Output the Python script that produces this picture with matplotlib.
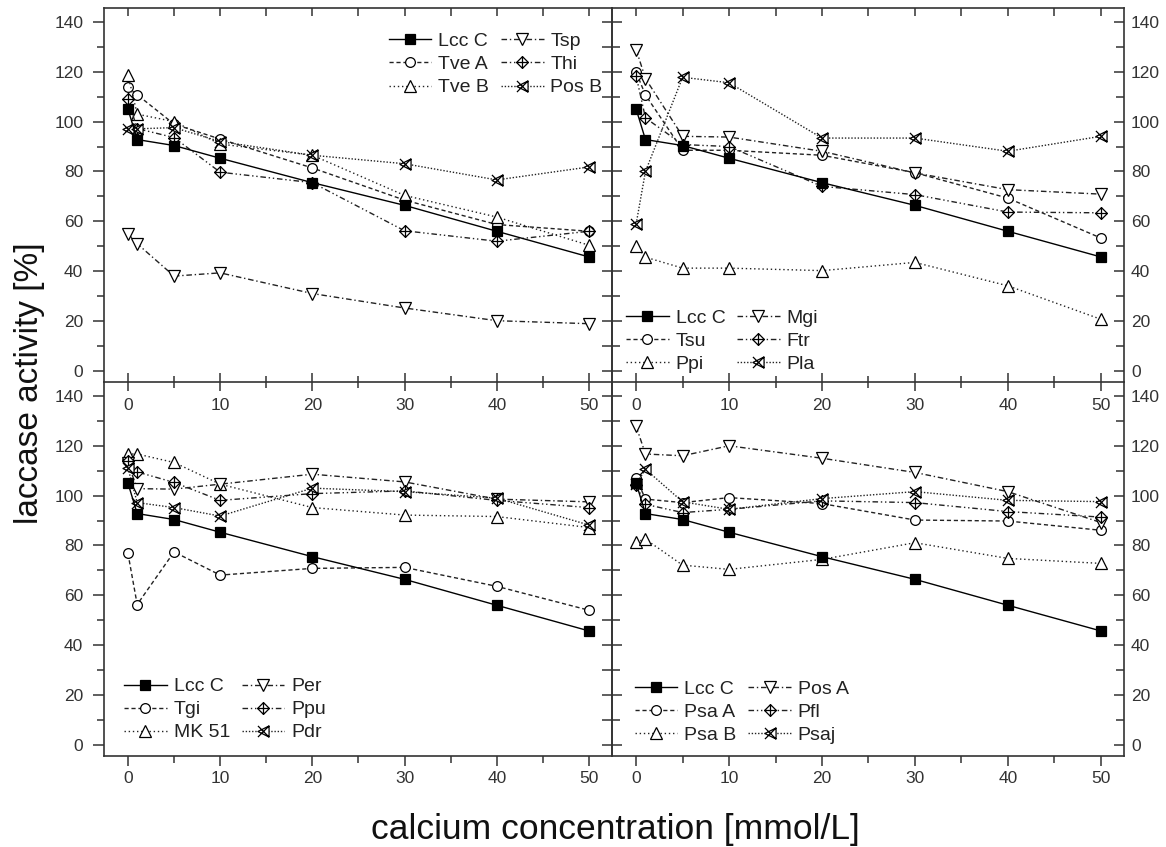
import matplotlib
matplotlib.use("Agg")
import matplotlib.pyplot as plt
from matplotlib.path import Path

plt.rcParams['font.family'] = ['Liberation Sans', 'DejaVu Sans']

# ---------------- data ----------------
conc = [0, 1, 5, 10, 20, 30, 40, 50]
lcc_c = [105, 92.8, 90.4, 85.3, 75.5, 66.4, 56, 45.7]

# panel top-left
tve_a = [114, 110.8, 99, 93, 81.4, 68.5, 58.7, 56]
tve_b = [118.8, 103, 100, 91, 86.5, 70.4, 61.7, 50.4]
tsp = [55, 51, 38, 39.3, 31, 25.2, 20.1, 18.9]
thi = [108.9, 97.2, 93.6, 79.7, 75.5, 56.2, 52, 56]
pos_b = [97.1, 97.1, 97.6, 92, 86.5, 83.1, 76.6, 81.8]

# panel top-right
tsu = [119.8, 110.7, 88.5, 88.5, 86.5, 79.5, 69.3, 53.3]
ppi = [50.2, 45.6, 41.2, 41.2, 40.2, 43.5, 34.1, 20.7]
mgi = [128.9, 117.3, 94.1, 93.8, 88.1, 79.4, 72.7, 70.9]
ftr = [118.3, 101.5, 90.8, 90, 74, 70.7, 63.7, 63.4]
pla = [59, 80, 117.8, 115.6, 93.4, 93.4, 88.1, 94.1]

# panel bottom-left
tgi = [76.8, 56.3, 77.4, 68.1, 70.8, 71.2, 63.6, 54]
mk51 = [116.7, 116.7, 113.3, 104.6, 95.2, 92.2, 91.6, 87.2]
per = [113, 102.8, 102.6, 104.6, 108.6, 105.5, 98.6, 97.5]
ppu = [114, 109.5, 105.3, 98.1, 100.8, 101.9, 98.1, 95.2]
pdr = [111, 97.2, 95.2, 91.8, 103, 101.6, 99, 88.2]

# panel bottom-right
pos_a = [127.8, 116.7, 116, 120, 115, 109.3, 101.6, 89.2]
psa_a = [107, 98.6, 97.2, 99.2, 96.8, 90.2, 89.8, 86.1]
psa_b = [81.5, 82.5, 72.1, 70.4, 74.4, 81.1, 74.8, 72.8]
pfl = [104.3, 96.5, 93.2, 94.5, 97.9, 97.2, 93.6, 91.4]
psaj = [104.6, 110.6, 97.5, 94.5, 98.8, 101.6, 98.1, 97.6]

panels = [
    (["Lcc C", "Tve A", "Tve B", "Tsp", "Thi", "Pos B"],
     [lcc_c, tve_a, tve_b, tsp, thi, pos_b]),
    (["Lcc C", "Tsu", "Ppi", "Mgi", "Ftr", "Pla"],
     [lcc_c, tsu, ppi, mgi, ftr, pla]),
    (["Lcc C", "Tgi", "MK 51", "Per", "Ppu", "Pdr"],
     [lcc_c, tgi, mk51, per, ppu, pdr]),
    (["Lcc C", "Psa A", "Psa B", "Pos A", "Pfl", "Psaj"],
     [lcc_c, psa_a, psa_b, pos_a, pfl, psaj]),
]

# ---------------- styles ----------------
M, L, C = Path.MOVETO, Path.LINETO, Path.CLOSEPOLY
diamond_plus = Path(
    [(0, 1), (1, 0), (0, -1), (-1, 0), (0, 1), (0, 1), (0, -1), (-1, 0), (1, 0)],
    [M, L, L, L, C, M, L, M, L])
tri_x = Path(
    [(-1, 0), (1, 1), (1, -1), (-1, 0), (-1, 1), (1, -1), (-1, -1), (1, 1)],
    [M, L, L, C, M, L, M, L])

markers = ['s', 'o', '^', 'v', diamond_plus, tri_x]
msizes = [6.5, 7, 8.5, 8.5, 8.5, 8]
styles = ['-', (0, (3, 2)), (0, (1, 2)), (0, (4, 2, 1, 2)),
          (0, (4, 2, 1, 2, 1, 2)), (0, (1, 1.3))]
faces = ['black', 'white', 'white', 'white', 'white', 'white']

fig = plt.figure(figsize=(11.66, 8.47), dpi=100)
W, H = 1166, 847
xl, xm, xr = 104 / W, 612 / W, 1124 / W
yt, ym, yb = 1 - 8 / H, 1 - 382 / H, 1 - 756 / H

rects = [
    [xl, ym, xm - xl, yt - ym],
    [xm, ym, xr - xm, yt - ym],
    [xl, yb, xm - xl, ym - yb],
    [xm, yb, xr - xm, ym - yb],
]

spine_col = '#333333'
tick_col = '#333333'
legend_pos = [
    ('upper left', (0.545, 0.955)),
    ('lower left', (0.012, 0.004)),
    ('lower left', (0.024, 0.018)),
    ('lower left', (0.029, 0.012)),
]

for i, (rect, (names, series)) in enumerate(zip(rects, panels)):
    ax = fig.add_axes(rect)
    ax.patch.set_visible(False)
    for j, (nm, ys) in enumerate(zip(names, series)):
        ax.plot(conc, ys, linestyle=styles[j], color='#222222' if j else 'black',
                lw=1.0, marker=markers[j], ms=msizes[j], mfc=faces[j],
                mec='black', mew=0.9, label=nm, zorder=3 + (j == 0))
    ax.set_xlim(-2.6, 52.5)
    ax.set_ylim(-4.5, 145.6)
    ax.set_xticks([0, 10, 20, 30, 40, 50])
    ax.set_xticks([5, 15, 25, 35, 45], minor=True)
    ax.set_yticks(range(0, 141, 20))
    ax.set_yticks(range(10, 141, 20), minor=True)
    for s in ax.spines.values():
        s.set_color(spine_col)
        s.set_linewidth(1.2)
    top_row = i < 2
    left_col = i % 2 == 0
    # x ticks
    if top_row:
        ax.tick_params(axis='x', which='both', top=True, bottom=True)
        ax.tick_params(axis='x', which='major', direction='inout', length=13, pad=5)
        ax.tick_params(axis='x', which='minor', direction='inout', length=8)
    else:
        ax.spines['top'].set_visible(False)
        ax.tick_params(axis='x', which='both', top=False, bottom=True, direction='out')
        ax.tick_params(axis='x', which='major', length=7, pad=4)
        ax.tick_params(axis='x', which='minor', length=5)
    ax.tick_params(axis='x', which='both', width=1.1, color=tick_col,
                   labelsize=12.5, labelcolor='#333333')
    # y ticks
    if left_col:
        ax.tick_params(axis='y', which='both', left=True, right=True,
                       labelleft=True, labelright=False, direction='out', pad=7)
        ax.tick_params(axis='y', which='major', length=8)
        ax.tick_params(axis='y', which='minor', length=5)
    else:
        ax.tick_params(axis='y', which='both', left=True, right=True,
                       labelleft=False, labelright=True, direction='in', pad=5)
        ax.tick_params(axis='y', which='major', length=7)
        ax.tick_params(axis='y', which='minor', length=6)
    ax.tick_params(axis='y', which='both', width=1.1,
                   color=tick_col, labelsize=12.5, labelcolor='#333333')
    # inner shared spine: ticks pointing into the panel
    if left_col:
        for t in ax.yaxis.get_major_ticks() + ax.yaxis.get_minor_ticks():
            t.tick2line.set_marker(0)
            t.tick2line.set_markersize(7.5)
    # top x ticks of top row point inward only
    if top_row:
        for t in ax.xaxis.get_major_ticks() + ax.xaxis.get_minor_ticks():
            t.tick2line.set_marker(3)
            t.tick2line.set_markersize(6)
    loc, anchor = legend_pos[i]
    ax.legend(loc=loc, bbox_to_anchor=anchor, ncol=2, frameon=False,
              fontsize=14, handlelength=2.2, handletextpad=0.35,
              columnspacing=0.6, labelspacing=0.28, borderaxespad=0,
              labelcolor='#222222')

fig.text(30 / W, 1 - 383 / H, 'laccase activity [%]', rotation=90,
         ha='center', va='center', fontsize=24, color='#111111')
fig.text(615 / W, 1 - 829 / H, 'calcium concentration [mmol/L]',
         ha='center', va='center', fontsize=25.5, color='#111111')

fig.savefig('out.png', dpi=100)
